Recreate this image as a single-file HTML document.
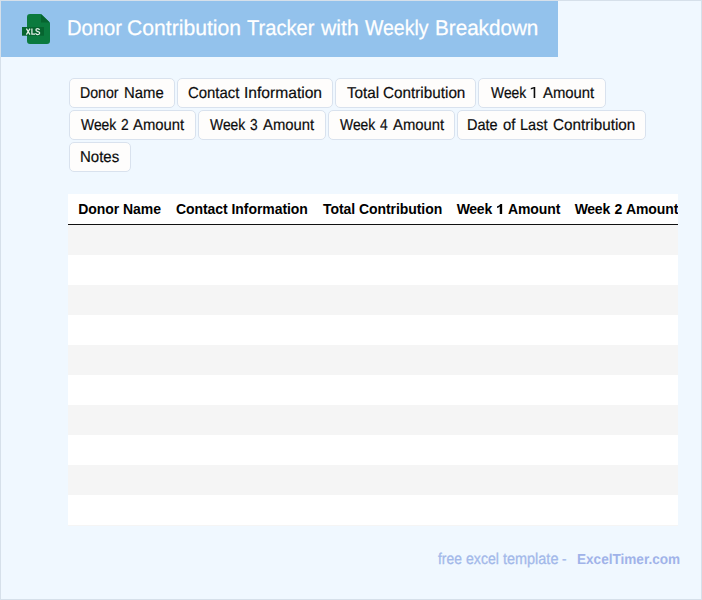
<!DOCTYPE html>
<html><head><meta charset="utf-8">
<style>
*{box-sizing:border-box;margin:0;padding:0}
html,body{width:702px;height:600px;overflow:hidden;background:#f0f8ff;font-family:"Liberation Sans",sans-serif;}
#frame{position:absolute;left:0;top:0;width:702px;height:600px;background:#f0f8ff;overflow:hidden}
#bd{position:absolute;left:0;top:0;width:702px;height:600px;border:1px solid #d6e0ea;z-index:5;pointer-events:none}
#hdr{position:absolute;left:1px;top:1px;width:557px;height:56px;background:#93c2ec}
#icon{position:absolute;left:22px;top:14px}
.tag{position:absolute;height:30px;background:#fefdfc;border:1px solid #d9e2ee;border-radius:5px}
.w{position:absolute;transform-origin:0 0;text-rendering:geometricPrecision;line-height:1;white-space:nowrap}
.w.tg{font-size:15.8px;color:#0c0c0c;-webkit-text-stroke:0.2px #0c0c0c}
.w.title{font-size:21.3px;color:#fff;-webkit-text-stroke:0.25px #fff}
.w.foot{font-size:15.8px;color:#a3b9ea;-webkit-text-stroke:0.3px #a3b9ea}
.w.footb{font-size:14.4px;font-weight:bold;color:#a0b3e9}
#tbl{position:absolute;left:68px;top:194px;width:610px;height:332px;background:#fff;overflow:hidden}
.th{position:absolute;top:0;font-weight:bold;font-size:14px;line-height:30px;color:#000;white-space:nowrap}
.hl{position:absolute;left:0;top:30px;width:610px;height:1px;background:#111}
.row{position:absolute;left:0;width:610px;height:30px;background:#f5f5f5}
</style></head><body>
<div id="frame">
<div id="hdr"></div>
<svg id="icon" width="30" height="32" viewBox="0 0 30 32">
<path d="M8 0h10.2q.9 0 1.5.6l7.7 7.3q.6.6.6 1.5V27a3 3 0 0 1-3 3H8a3 3 0 0 1-3-3V3a3 3 0 0 1 3-3z" fill="#0b7a3e"/>
<path d="M19 .3l8.7 8.2H19z" fill="#06642f"/>
<rect x="0" y="13" width="22" height="8.7" fill="#06642f"/>
<g fill="none" stroke="#e4efe8" stroke-width="1.25"><path d="M4.4 14.6L8 20.6M8 14.6L4.4 20.6"/><path d="M9.9 14.6V20H13"/><path d="M17.5 16C17.2 15.1 16.5 14.7 15.6 14.7C14.6 14.7 13.9 15.3 13.9 16.1C13.9 18.1 17.7 17.1 17.7 19C17.7 19.9 16.8 20.5 15.7 20.5C14.6 20.5 13.8 19.9 13.6 19.1"/></g>
</svg>
<div class="tag" style="left:69px;top:78px;width:106px"></div>
<div class="tag" style="left:177px;top:78px;width:156px"></div>
<div class="tag" style="left:335px;top:78px;width:141px"></div>
<div class="tag" style="left:478px;top:78px;width:128px"></div>
<div class="tag" style="left:69px;top:110px;width:127px"></div>
<div class="tag" style="left:198px;top:110px;width:128px"></div>
<div class="tag" style="left:328px;top:110px;width:127px"></div>
<div class="tag" style="left:457px;top:110px;width:189px"></div>
<div class="tag" style="left:69px;top:142px;width:62px"></div>
<span class="w tg" style="left:79.99px;top:85.53px;transform:scaleX(0.8946)">Donor</span>
<span class="w tg" style="left:124.21px;top:85.53px;transform:scaleX(0.9417)">Name</span>
<span class="w tg" style="left:188.32px;top:85.53px;transform:scaleX(0.9441)">Contact</span>
<span class="w tg" style="left:243.61px;top:85.53px;transform:scaleX(0.9877)">Information</span>
<span class="w tg" style="left:347.01px;top:85.53px;transform:scaleX(0.9652)">Total</span>
<span class="w tg" style="left:383.44px;top:85.53px;transform:scaleX(0.967)">Contribution</span>
<span class="w tg" style="left:490.54px;top:85.53px;transform:scaleX(0.8806)">Week</span>
<span class="w tg" style="left:542.9px;top:85.53px;transform:scaleX(0.9412)">Amount</span>
<span class="w tg" style="left:80.74px;top:117.53px;transform:scaleX(0.8806)">Week</span>
<span class="w tg" style="left:120.6px;top:117.53px;transform:scaleX(0.87)">2</span>
<span class="w tg" style="left:133.09px;top:117.53px;transform:scaleX(0.9387)">Amount</span>
<span class="w tg" style="left:210.42px;top:117.53px;transform:scaleX(0.8806)">Week</span>
<span class="w tg" style="left:250.36px;top:117.53px;transform:scaleX(0.87)">3</span>
<span class="w tg" style="left:262.67px;top:117.53px;transform:scaleX(0.9387)">Amount</span>
<span class="w tg" style="left:339.68px;top:117.53px;transform:scaleX(0.8806)">Week</span>
<span class="w tg" style="left:379.89px;top:117.53px;transform:scaleX(0.87)">4</span>
<span class="w tg" style="left:392.63px;top:117.53px;transform:scaleX(0.9387)">Amount</span>
<span class="w tg" style="left:467.43px;top:117.53px;transform:scaleX(0.9183)">Date</span>
<span class="w tg" style="left:503.28px;top:117.53px;transform:scaleX(0.9413)">of</span>
<span class="w tg" style="left:519.87px;top:117.53px;transform:scaleX(0.9191)">Last</span>
<span class="w tg" style="left:552.88px;top:117.53px;transform:scaleX(0.9654)">Contribution</span>
<span class="w tg" style="left:80.17px;top:149.53px;transform:scaleX(0.9492)">Notes</span>
<span class="w title" style="left:66.68px;top:17.67px;transform:scaleX(0.9492)">Donor</span>
<span class="w title" style="left:127.19px;top:17.67px;transform:scaleX(0.9932)">Contribution</span>
<span class="w title" style="left:246.7px;top:17.67px;transform:scaleX(0.945)">Tracker</span>
<span class="w title" style="left:320.74px;top:17.67px;transform:scaleX(0.9943)">with</span>
<span class="w title" style="left:365.45px;top:17.67px;transform:scaleX(0.9148)">Weekly</span>
<span class="w title" style="left:434.81px;top:17.67px;transform:scaleX(0.9695)">Breakdown</span>
<span class="w foot" style="left:437.75px;top:551.53px;transform:scaleX(0.8759)">free</span>
<span class="w foot" style="left:465.55px;top:551.53px;transform:scaleX(0.8925)">excel</span>
<span class="w foot" style="left:503.01px;top:551.53px;transform:scaleX(0.9146)">template</span>
<span class="w foot" style="left:561.99px;top:551.53px;transform:scaleX(0.85)">-</span>
<span class="w footb" style="left:577.25px;top:553.01px;transform:scaleX(0.9431)">ExcelTimer.com</span>
<div id="tbl">
<div class="th" style="left:10.3px;letter-spacing:-0.06px">Donor Name</div>
<div class="th" style="left:108.0px;letter-spacing:-0.063px">Contact Information</div>
<div class="th" style="left:255.0px;letter-spacing:-0.06px">Total Contribution</div>
<div class="th" style="left:388.7px;letter-spacing:-0.28px">Week</div>
<div class="th" style="left:439.9px;letter-spacing:-0.06px">Amount</div>
<div class="th" style="left:506.7px;letter-spacing:-0.28px">Week</div>
<div class="th" style="left:546.6px;letter-spacing:0px">2</div>
<div class="th" style="left:557.9px;letter-spacing:-0.06px">Amount</div>
<div class="hl"></div>
<div class="row" style="top:31px"></div>
<div class="row" style="top:91px"></div>
<div class="row" style="top:151px"></div>
<div class="row" style="top:211px"></div>
<div class="row" style="top:271px"></div>
<div class="row" style="top:331px"></div>
</div>
<svg style="position:absolute;left:0;top:0;z-index:4" width="702" height="600" viewBox="0 0 702 600"><path d="M535.25 87V97.9H533.65V88.55L530.8 89.5V88.1L534.1 87Z" fill="#0c0c0c"/><path d="M502.15 204V213.9H499.75V206.6Q498.6 207.6 497 208.1V206.5Q499.3 205.7 500.4 204Z" fill="#000"/></svg>
<div id="bd"></div>
</div>
</body></html>
